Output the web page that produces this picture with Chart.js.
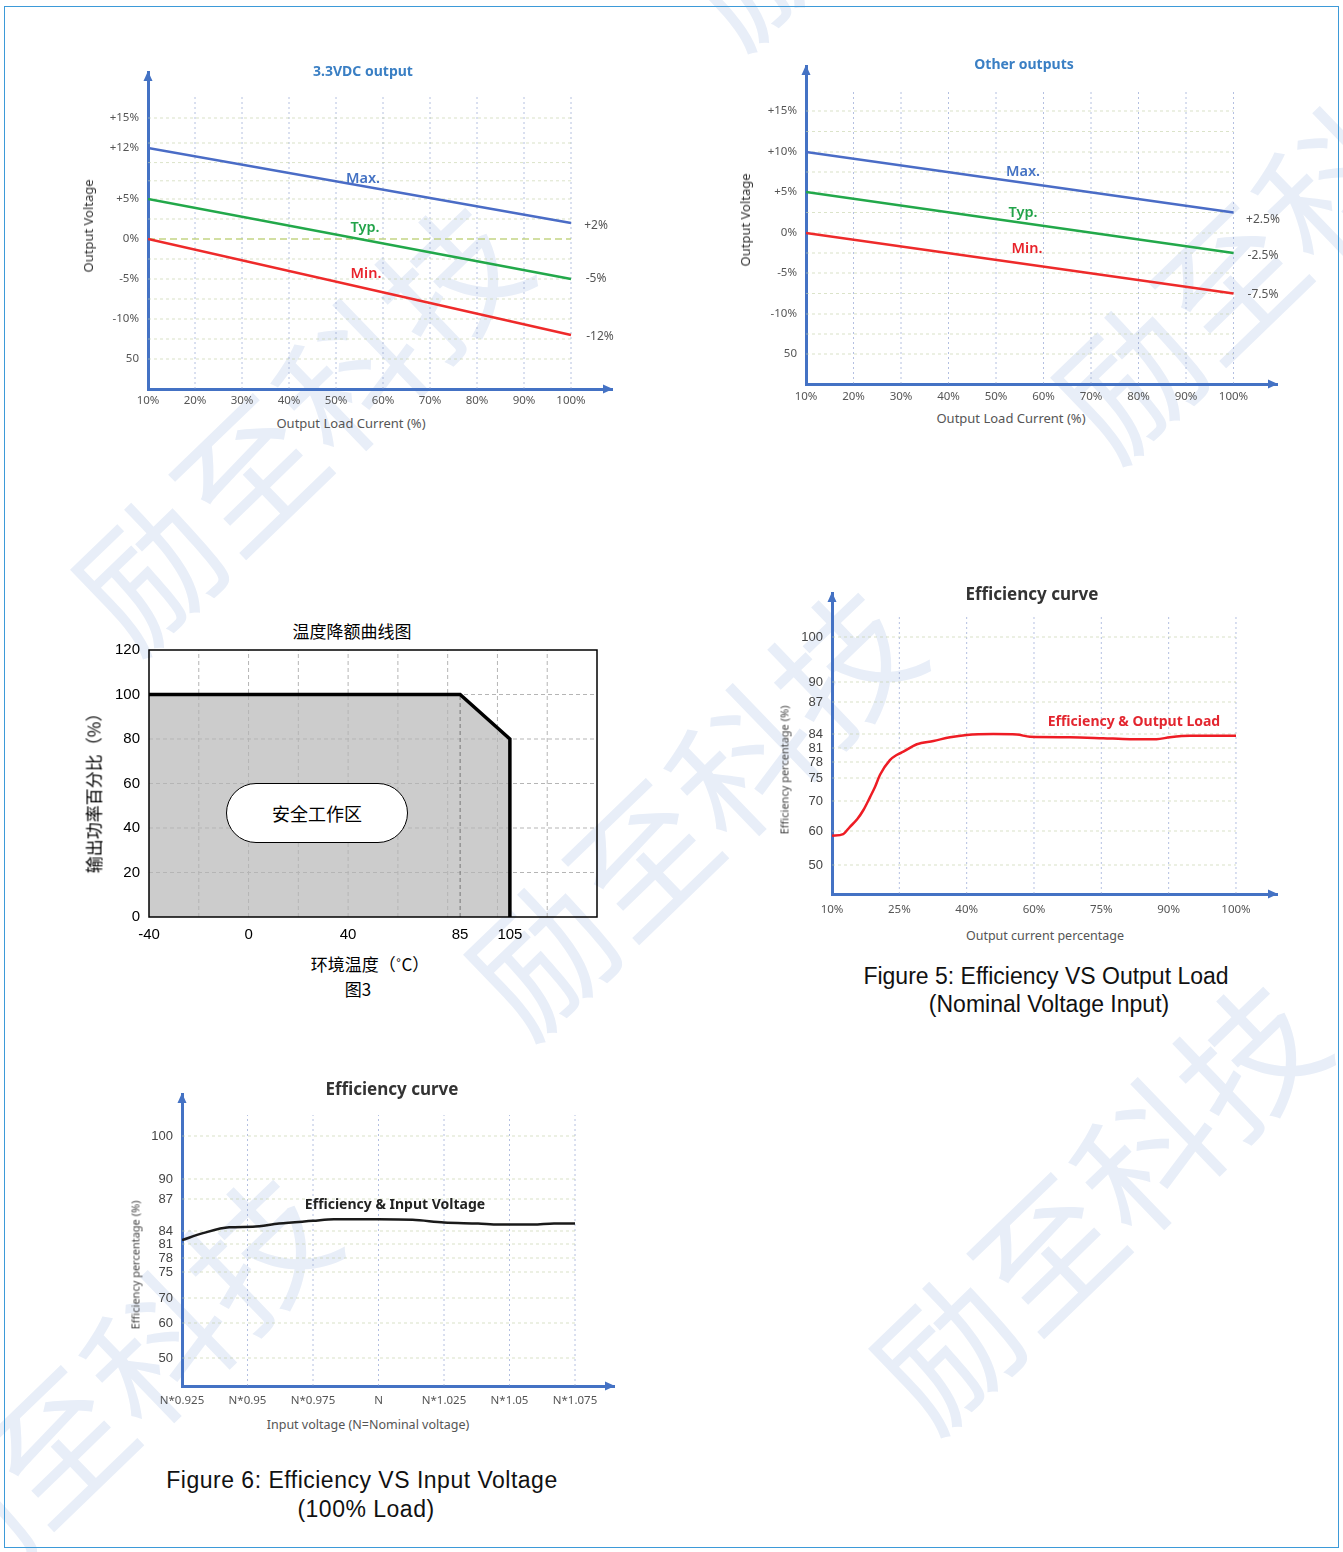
<!DOCTYPE html>
<html>
<head>
<meta charset="utf-8">
<script src="https://cdn.jsdelivr.net/npm/chart.js@4.4.1/dist/chart.umd.min.js"></script>
<style>
  html, body { margin: 0; padding: 0; background: #fff; }
  #page { position: relative; width: 1343px; height: 1552px; overflow: hidden; font-family: "Noto Sans", sans-serif; }
  .frame { position: absolute; left: 4px; top: 6px; width: 1335px; height: 1542px; border: 1.5px solid #3d9ad8; box-sizing: border-box; z-index: 3; pointer-events: none; }
  .wm { position: absolute; font-family: "Noto Sans CJK SC"; font-size: 140px; line-height: 1; color: #e8eef8; white-space: nowrap; transform: translate(-50%, -50%) rotate(-44deg); z-index: 0; }
  .box { position: absolute; z-index: 1; }
  .t { position: absolute; white-space: nowrap; transform: translate(-50%, -50%); z-index: 2; line-height: 1; }
  .tv { position: absolute; white-space: nowrap; transform: translate(-50%, -50%) rotate(-90deg); z-index: 2; line-height: 1; }
  .cjk { font-family: "Noto Sans CJK SC"; }
  .cap { font-family: "Liberation Sans", Arial, sans-serif; font-size: 23px; color: #111; }
  .lbl { font: 600 14.5px "Noto Sans"; }
  .pill { position: absolute; left: 226px; top: 783px; width: 182px; height: 60px; box-sizing: border-box; border: 1.3px solid #000; border-radius: 30px; background: #fff; z-index: 2; display: flex; align-items: center; justify-content: center; font: 18px "Noto Sans CJK SC"; color: #000; }
</style>
</head>
<body>
<div id="page">
  <div class="frame"></div>

  <div class="wm" style="left:295px;top:420px">励至科技</div>
  <div class="wm" style="left:688px;top:805px">励至科技</div>
  <div class="wm" style="left:1093px;top:1199px">励至科技</div>
  <div class="wm" style="left:1275px;top:228px">励至科技</div>
  <div class="wm" style="left:103px;top:1392px">励至科技</div>
  <div class="wm" style="left:900px;top:-185px">励至科技</div>

  <div class="box" id="c33"><canvas></canvas></div>
  <div class="box" id="cOther"><canvas></canvas></div>
  <div class="box" id="cDerate"><canvas></canvas></div>
  <div class="box" id="cLoad"><canvas></canvas></div>
  <div class="box" id="cVin"><canvas></canvas></div>

  <!-- 3.3VDC output -->
  <div class="t" style="left:363px;top:70px;font:bold 14px 'Noto Sans';color:#3a7fc4">3.3VDC output</div>
  <div class="tv" style="left:88px;top:226px;font:13px 'Noto Sans';color:#333">Output Voltage</div>
  <div class="t" style="left:351px;top:423px;font:13px 'Noto Sans';color:#555">Output Load Current (%)</div>
  <div class="t lbl" style="left:363px;top:177px;color:#4472c4">Max.</div>
  <div class="t lbl" style="left:365px;top:226px;color:#22a34a">Typ.</div>
  <div class="t lbl" style="left:366px;top:272px;color:#e8232b">Min.</div>
  <div class="t" style="left:596px;top:224px;font:12px 'Noto Sans';color:#555">+2%</div>
  <div class="t" style="left:596px;top:277px;font:12px 'Noto Sans';color:#555">-5%</div>
  <div class="t" style="left:600px;top:335px;font:12px 'Noto Sans';color:#555">-12%</div>

  <!-- Other outputs -->
  <div class="t" style="left:1024px;top:63px;font:bold 14px 'Noto Sans';color:#3a7fc4">Other outputs</div>
  <div class="tv" style="left:745px;top:220px;font:13px 'Noto Sans';color:#333">Output Voltage</div>
  <div class="t" style="left:1011px;top:418px;font:13px 'Noto Sans';color:#555">Output Load Current (%)</div>
  <div class="t lbl" style="left:1023px;top:170px;color:#4472c4">Max.</div>
  <div class="t lbl" style="left:1023px;top:211px;color:#22a34a">Typ.</div>
  <div class="t lbl" style="left:1027px;top:247px;color:#e8232b">Min.</div>
  <div class="t" style="left:1263px;top:218px;font:12px 'Noto Sans';color:#555">+2.5%</div>
  <div class="t" style="left:1263px;top:254px;font:12px 'Noto Sans';color:#555">-2.5%</div>
  <div class="t" style="left:1263px;top:293px;font:12px 'Noto Sans';color:#555">-7.5%</div>

  <!-- 温度降额 -->
  <div class="t cjk" style="left:352px;top:630px;font-size:17px;color:#000">温度降额曲线图</div>
  <div class="tv cjk" style="left:93px;top:789px;font-size:17px;color:#000">输出功率百分比（%）</div>
  <div class="t cjk" style="left:370px;top:963px;font-size:17px;color:#000">环境温度（˚C）</div>
  <div class="t cjk" style="left:358px;top:988px;font-size:17px;color:#000">图3</div>
  <div class="pill">安全工作区</div>

  <!-- Efficiency vs load -->
  <div class="t" style="left:1032px;top:593px;font:bold 17px 'Noto Sans';color:#333">Efficiency curve</div>
  <div class="tv" style="left:784px;top:770px;font:11px 'Noto Sans';color:#444">Efficiency percentage (%)</div>
  <div class="t" style="left:1045px;top:935px;font:12.5px 'Noto Sans';color:#555">Output current percentage</div>
  <div class="t" style="left:1134px;top:720px;font:bold 14px 'Noto Sans';color:#e3262f">Efficiency &amp; Output Load</div>
  <div class="t cap" style="left:1046px;top:976px">Figure 5: Efficiency VS Output Load</div>
  <div class="t cap" style="left:1049px;top:1004px">(Nominal Voltage Input)</div>

  <!-- Efficiency vs input voltage -->
  <div class="t" style="left:392px;top:1088px;font:bold 17px 'Noto Sans';color:#333">Efficiency curve</div>
  <div class="tv" style="left:135px;top:1265px;font:11px 'Noto Sans';color:#444">Efficiency percentage (%)</div>
  <div class="t" style="left:368px;top:1424px;font:12.5px 'Noto Sans';color:#555">Input voltage (N=Nominal voltage)</div>
  <div class="t" style="left:395px;top:1203px;font:bold 14px 'Noto Sans';color:#222">Efficiency &amp; Input Voltage</div>
  <div class="t cap" style="left:362px;top:1480px;letter-spacing:0.5px">Figure 6: Efficiency VS Input Voltage</div>
  <div class="t cap" style="left:366px;top:1509px;letter-spacing:0.5px">(100% Load)</div>
</div>

<script>
// ---- data: 3.3VDC output ----
const loadEnds = [10, 100];
const max33 = [12, 2];
const typ33 = [5, -5];
const min33 = [0, -12];
const yTicks33 = [15, 12, 5, 0, -5, -10, -15];
const yLabels33 = ['+15%', '+12%', '+5%', '0%', '-5%', '-10%', '50'];

// ---- data: other outputs ----
const maxOther = [10, 2.5];
const typOther = [5, -2.5];
const minOther = [0, -7.5];
const yTicksOther = [15, 10, 5, 0, -5, -10, -15];
const yLabelsOther = ['+15%', '+10%', '+5%', '0%', '-5%', '-10%', '50'];

const loadTicks = [10, 20, 30, 40, 50, 60, 70, 80, 90, 100];
const loadLabels = ['10%', '20%', '30%', '40%', '50%', '60%', '70%', '80%', '90%', '100%'];

// ---- data: temperature derating ----
const tempC = [-40, 85, 105, 105];
const powerPct = [100, 100, 80, 0];
const tempTicks = [-40, 0, 40, 85, 105];

// ---- data: efficiency vs output load ----
const effLoadPct = [10, 12.5, 14, 15.6, 17, 18.5, 19.6, 20.7, 22.9, 24.4, 25.9, 28.9, 32.6, 36.3, 40, 47.9, 54.9, 58.8, 68, 75.4, 81.4, 87.3, 90.2, 93.2, 100];
const effVsLoad = [58.6, 59.1, 61.4, 63.9, 67, 70.9, 73.1, 75.6, 78.4, 79.5, 80.2, 81.8, 82.5, 83.3, 83.8, 84, 83.9, 83.4, 83.3, 83.1, 82.9, 82.9, 83.3, 83.6, 83.6];
const loadCats = [10, 25, 40, 60, 75, 90, 100];
const loadCatLabels = ['10%', '25%', '40%', '60%', '75%', '90%', '100%'];

// ---- data: efficiency vs input voltage ----
const vinFactor = [0.925, 0.933, 0.943, 0.952, 0.962, 0.975, 0.983, 1.0, 1.013, 1.025, 1.038, 1.046, 1.059, 1.067, 1.075];
const effVsVin = [81.9, 83.5, 84.35, 84.4, 84.7, 84.95, 85.1, 85.1, 85.05, 84.8, 84.7, 84.6, 84.6, 84.7, 84.7];
const vinCats = [0.925, 0.95, 0.975, 1.0, 1.025, 1.05, 1.075];
const vinLabels = ['N*0.925', 'N*0.95', 'N*0.975', 'N', 'N*1.025', 'N*1.05', 'N*1.075'];

const effTicks = [100, 90, 87, 84, 81, 78, 75, 70, 60, 50];

// ---- axis layout: the tick rows are not evenly spaced in the source, so
// each tick gets its height (px above the x axis) and values are mapped between them
const yPx33 = [271, 241, 190, 150, 110, 70, 30];
const yPxOther = [273, 232, 192, 151, 111, 70, 30];
const effPxLoad = [257, 212, 192, 160, 146, 132, 116, 93, 63, 29];
const effPxVin = [250, 207, 187, 155, 142, 128, 114, 88, 63, 28];
const catIdx = [0, 1, 2, 3, 4, 5, 6];

const AXIS_BLUE = '#4472c4';

function warp(v, vals, pos) {
  const pts = vals.map((x, i) => [x, pos[i]]).sort((a, b) => a[0] - b[0]);
  let i = 0;
  while (i < pts.length - 2 && v > pts[i + 1][0]) i++;
  const [x0, p0] = pts[i], [x1, p1] = pts[i + 1];
  return p0 + (v - x0) * (p1 - p0) / (x1 - x0);
}

function place(id, area, m) {
  const el = document.getElementById(id);
  el.style.left = (area[0] - m.left) + 'px';
  el.style.top = (area[1] - m.top) + 'px';
  el.style.width = (area[2] - area[0] + m.left + m.right) + 'px';
  el.style.height = (area[3] - area[1] + m.top + m.bottom) + 'px';
  return el.querySelector('canvas');
}

const fitX = h => s => { s.height = h; s.paddingLeft = 0; s.paddingRight = 0; };
const fitY = w => s => { s.width = w; s.paddingTop = 0; s.paddingBottom = 0; };

function drawGrid(chart, lines) {
  const { ctx, scales: { x, y } } = chart;
  ctx.save();
  for (const g of lines) {
    ctx.strokeStyle = g.color;
    ctx.lineWidth = g.width || 1;
    ctx.setLineDash(g.dash || []);
    for (const v of g.at) {
      ctx.beginPath();
      if (g.axis === 'x') {
        const px = x.getPixelForValue(v);
        ctx.moveTo(px, y.getPixelForValue(g.from));
        ctx.lineTo(px, y.getPixelForValue(g.to));
      } else {
        const py = y.getPixelForValue(v);
        ctx.moveTo(x.getPixelForValue(g.from), py);
        ctx.lineTo(x.getPixelForValue(g.to), py);
      }
      ctx.stroke();
    }
  }
  ctx.restore();
}

const decor = {
  id: 'decor',
  beforeDatasetsDraw(chart, args, o) {
    if (o.gridAfter == null) drawGrid(chart, o.lines || []);
  },
  afterDatasetDraw(chart, args, o) {
    if (o.gridAfter === args.index) drawGrid(chart, o.lines || []);
  },
  afterDraw(chart, args, o) {
    const { ctx, chartArea: a } = chart;
    ctx.save();
    if (o.frame) {
      ctx.strokeStyle = o.frame;
      ctx.lineWidth = 1.5;
      ctx.strokeRect(a.left, a.top, a.right - a.left, a.bottom - a.top);
    }
    if (o.arrows) {
      ctx.fillStyle = o.arrows;
      ctx.beginPath();
      ctx.moveTo(a.right + 1, a.bottom);
      ctx.lineTo(a.right - 9, a.bottom - 4.5);
      ctx.lineTo(a.right - 9, a.bottom + 4.5);
      ctx.fill();
      ctx.beginPath();
      ctx.moveTo(a.left, a.top - 1);
      ctx.lineTo(a.left - 4.5, a.top + 9);
      ctx.lineTo(a.left + 4.5, a.top + 9);
      ctx.fill();
    }
    ctx.restore();
  }
};

function baseOptions(m) {
  return {
    responsive: true,
    maintainAspectRatio: false,
    animation: false,
    layout: { padding: { left: 0, right: m.right, top: m.top, bottom: 0 } },
    plugins: { legend: { display: false }, tooltip: { enabled: false } },
    elements: { point: { radius: 0 } }
  };
}

function lineDs(xs, ys, color, width) {
  return {
    data: xs.map((x, i) => ({ x, y: ys[i] })),
    borderColor: color,
    borderWidth: width,
    pointRadius: 0,
    fill: false
  };
}

function warpedY(top, vals, px, labels, w, font, color, pad) {
  return {
    type: 'linear', min: 0, max: top,
    afterBuildTicks: s => { s.ticks = vals.map(v => ({ value: warp(v, vals, px) })); },
    afterFit: fitY(w),
    ticks: { autoSkip: false, callback: (v, i) => labels[i], font, color, padding: pad },
    grid: { display: false, drawTicks: false },
    border: { color: AXIS_BLUE, width: 3 }
  };
}

function tickedX(min, max, vals, labels, h, font, color, pad) {
  return {
    type: 'linear', min, max,
    afterBuildTicks: s => { s.ticks = vals.map(v => ({ value: v })); },
    afterFit: fitX(h),
    ticks: { autoSkip: false, maxRotation: 0, callback: (v, i) => labels[i], font, color, padding: pad },
    grid: { display: false, drawTicks: false },
    border: { color: AXIS_BLUE, width: 3 }
  };
}

const smallFont = { family: 'Noto Sans', size: 11.5 };
const vGridColor = 'rgba(130,150,205,0.6)';
const hGridColor = 'rgba(195,208,165,0.6)';
const gridSteps = [15, 12.5, 10, 7.5, 5, 2.5, 0, -2.5, -5, -7.5, -10, -12.5, -15];

// ---- 3.3VDC output ----
(function () {
  const area = [148, 72, 612, 389], m = { left: 60, right: 10, top: 6, bottom: 25 };
  const w33 = v => warp(v, yTicks33, yPx33);
  new Chart(place('c33', area, m), {
    type: 'line',
    data: {
      datasets: [
        lineDs(loadEnds, max33.map(w33), '#4a6cc6', 2.5),
        lineDs(loadEnds, typ33.map(w33), '#22a84a', 2.5),
        lineDs(loadEnds, min33.map(w33), '#ee2a2a', 2.5)
      ]
    },
    options: Object.assign(baseOptions(m), {
      scales: {
        x: tickedX(10, 10 + 464 / 4.7, loadTicks, loadLabels, m.bottom, smallFont, '#555', 5),
        y: warpedY(317, yTicks33, yPx33, yLabels33, m.left, smallFont, '#555', 9)
      },
      plugins: {
        legend: { display: false }, tooltip: { enabled: false },
        decor: {
          arrows: AXIS_BLUE,
          lines: [
            { axis: 'x', at: loadTicks.slice(1), from: 0, to: 292, color: vGridColor, dash: [2, 3] },
            { axis: 'y', at: gridSteps.filter(v => v !== 0).map(w33), from: 10, to: 100, color: hGridColor, dash: [3, 3] },
            { axis: 'y', at: [w33(0)], from: 10, to: 100, color: 'rgba(185,205,110,0.85)', dash: [7, 4], width: 1.3 }
          ]
        }
      }
    }),
    plugins: [decor]
  });
})();

// ---- Other outputs ----
(function () {
  const area = [806, 66, 1277, 384], m = { left: 60, right: 10, top: 6, bottom: 25 };
  const wO = v => warp(v, yTicksOther, yPxOther);
  new Chart(place('cOther', area, m), {
    type: 'line',
    data: {
      datasets: [
        lineDs(loadEnds, maxOther.map(wO), '#4a6cc6', 2.5),
        lineDs(loadEnds, typOther.map(wO), '#22a84a', 2.5),
        lineDs(loadEnds, minOther.map(wO), '#ee2a2a', 2.5)
      ]
    },
    options: Object.assign(baseOptions(m), {
      scales: {
        x: tickedX(10, 10 + 471 / 4.75, loadTicks, loadLabels, m.bottom, smallFont, '#555', 6),
        y: warpedY(318, yTicksOther, yPxOther, yLabelsOther, m.left, smallFont, '#555', 9)
      },
      plugins: {
        legend: { display: false }, tooltip: { enabled: false },
        decor: {
          arrows: AXIS_BLUE,
          lines: [
            { axis: 'x', at: loadTicks.slice(1), from: 0, to: 294, color: vGridColor, dash: [2, 3] },
            { axis: 'y', at: gridSteps.map(wO), from: 10, to: 100, color: hGridColor, dash: [3, 3] }
          ]
        }
      }
    }),
    plugins: [decor]
  });
})();

// ---- 温度降额曲线图 ----
(function () {
  const area = [149, 650, 597, 917], m = { left: 50, right: 6, top: 6, bottom: 30 };
  const pts = tempC.map((t, i) => ({ x: t, y: powerPct[i] }));
  const tickFont = { family: 'Liberation Sans', size: 15 };
  new Chart(place('cDerate', area, m), {
    type: 'line',
    data: {
      datasets: [
        { data: pts, borderColor: '#000', borderWidth: 3.5, borderJoinStyle: 'miter', fill: false, pointRadius: 0 },
        { data: pts, borderColor: 'rgba(0,0,0,0)', backgroundColor: '#cccccc', fill: 'origin', pointRadius: 0 }
      ]
    },
    options: Object.assign(baseOptions(m), {
      scales: {
        x: {
          type: 'linear', min: -40, max: 140,
          afterBuildTicks: s => { s.ticks = tempTicks.map(v => ({ value: v })); },
          afterFit: fitX(m.bottom),
          ticks: { autoSkip: false, maxRotation: 0, font: tickFont, color: '#000', padding: 9 },
          grid: { display: false, drawTicks: false },
          border: { display: false }
        },
        y: {
          type: 'linear', min: 0, max: 120,
          afterFit: fitY(m.left),
          ticks: { stepSize: 20, font: tickFont, color: '#000', padding: 9 },
          grid: { display: false, drawTicks: false },
          border: { display: false }
        }
      },
      plugins: {
        legend: { display: false }, tooltip: { enabled: false },
        decor: {
          frame: '#000',
          gridAfter: 1,
          lines: [
            { axis: 'x', at: [-20, 0, 20, 40, 60, 80, 100, 120], from: 0, to: 120, color: '#b5b5b5', dash: [4, 3] },
            { axis: 'y', at: [20, 40, 60, 80, 100], from: -40, to: 140, color: '#b5b5b5', dash: [4, 3] },
            { axis: 'x', at: [85], from: 0, to: 100, color: '#777', dash: [4, 3] }
          ]
        }
      }
    }),
    plugins: [decor]
  });
})();

// ---- Efficiency vs output load ----
(function () {
  const area = [832, 593, 1277, 894], m = { left: 45, right: 6, top: 6, bottom: 25 };
  const wy = v => warp(v, effTicks, effPxLoad);
  const wx = v => warp(v, loadCats, catIdx);
  const ds = lineDs(effLoadPct.map(wx), effVsLoad.map(wy), '#ee1c24', 2.5);
  ds.cubicInterpolationMode = 'monotone';
  new Chart(place('cLoad', area, m), {
    type: 'line',
    data: { datasets: [ds] },
    options: Object.assign(baseOptions(m), {
      scales: {
        x: tickedX(0, 445 / 67.33, catIdx, loadCatLabels, m.bottom, smallFont, '#555', 9),
        y: warpedY(301, effTicks, effPxLoad, effTicks.map(String), m.left, { family: 'Liberation Sans', size: 13 }, '#444', 9)
      },
      plugins: {
        legend: { display: false }, tooltip: { enabled: false },
        decor: {
          arrows: AXIS_BLUE,
          lines: [
            { axis: 'x', at: catIdx.slice(1), from: 0, to: 279, color: vGridColor, dash: [2, 3] },
            { axis: 'y', at: effTicks.map(wy), from: 0, to: 6, color: hGridColor, dash: [3, 3] }
          ]
        }
      }
    }),
    plugins: [decor]
  });
})();

// ---- Efficiency vs input voltage ----
(function () {
  const area = [182, 1094, 614, 1386], m = { left: 45, right: 6, top: 6, bottom: 25 };
  const wy = v => warp(v, effTicks, effPxVin);
  const wx = v => warp(v, vinCats, catIdx);
  const ds = lineDs(vinFactor.map(wx), effVsVin.map(wy), '#1a1a1a', 2.5);
  ds.cubicInterpolationMode = 'monotone';
  new Chart(place('cVin', area, m), {
    type: 'line',
    data: { datasets: [ds] },
    options: Object.assign(baseOptions(m), {
      scales: {
        x: tickedX(0, 432 / 65.5, catIdx, vinLabels, m.bottom, smallFont, '#555', 8),
        y: warpedY(292, effTicks, effPxVin, effTicks.map(String), m.left, { family: 'Liberation Sans', size: 13 }, '#444', 9)
      },
      plugins: {
        legend: { display: false }, tooltip: { enabled: false },
        decor: {
          arrows: AXIS_BLUE,
          lines: [
            { axis: 'x', at: catIdx.slice(1), from: 0, to: 271, color: vGridColor, dash: [2, 3] },
            { axis: 'y', at: effTicks.map(wy), from: 0, to: 6, color: hGridColor, dash: [3, 3] }
          ]
        }
      }
    }),
    plugins: [decor]
  });
})();
</script>
</body>
</html>
